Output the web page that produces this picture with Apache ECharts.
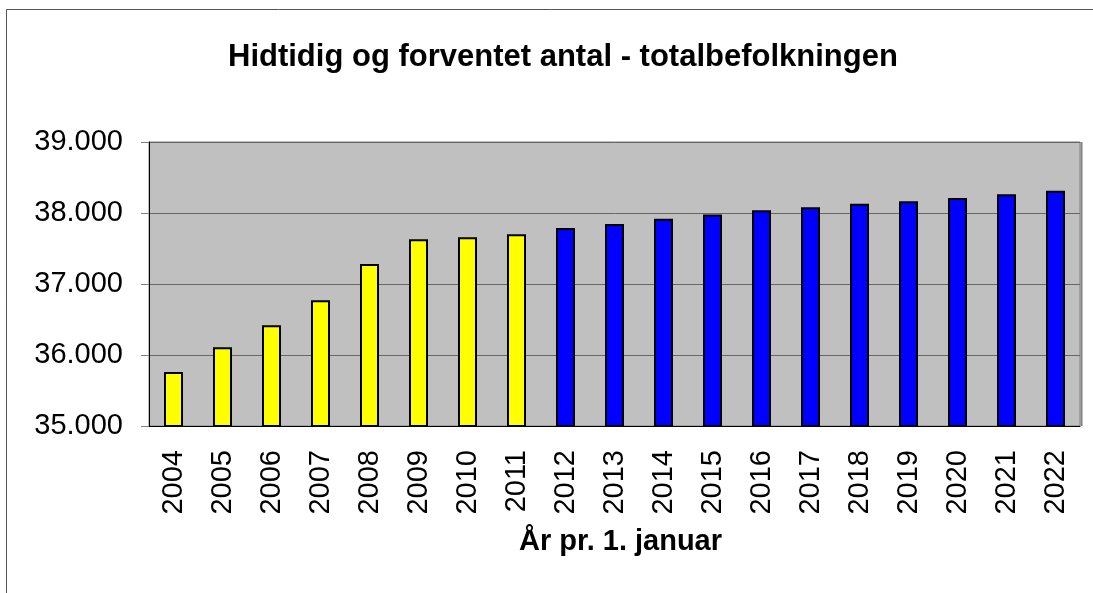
<!DOCTYPE html>
<html>
<head>
<meta charset="utf-8">
<title>Hidtidig og forventet antal - totalbefolkningen</title>
<script src="https://cdn.jsdelivr.net/npm/echarts@6/dist/echarts.min.js"></script>
<style>
    html, body { margin: 0; padding: 0; background: #fff; }
</style>
</head>
<body>
<div style="width:1093px;height:593px;" id="befolkning"></div>

<script>
// År pr. 1. januar
var years = ['2004', '2005', '2006', '2007', '2008', '2009', '2010', '2011', '2012', '2013',
    '2014', '2015', '2016', '2017', '2018', '2019', '2020', '2021', '2022'];
// hidtidig (gul) og forventet (blå) antal
var hidtidig = [35760, 36110, 36420, 36770, 37280, 37630, 37660, 37700];
var forventet = [37790, 37845, 37920, 37980, 38040, 38080, 38130, 38165, 38210, 38265, 38315];
var yTicks = { min: 35000, max: 39000, interval: 1000 };

var fontFamily = "'Liberation Sans', Arial, sans-serif";

function tusind (v) {
    return String(v).replace(/\B(?=(\d{3})+(?!\d))/g, '.');
}

// pad the two series so they share the same category slots
var histData = years.map(function (y, i) {
    return i < hidtidig.length ? hidtidig[i] : '-';
});
var progData = years.map(function (y, i) {
    var j = i - hidtidig.length;
    return j >= 0 ? forventet[j] : '-';
});

var option = {
    animation: false,
    backgroundColor: '#fff',
    textStyle: { fontFamily: fontFamily },
    title: {
        text: 'Hidtidig og forventet antal - totalbefolkningen',
        left: 223,
        top: 37,
        textStyle: {
            fontFamily: fontFamily,
            fontSize: 31,
            fontWeight: 'bold',
            color: '#000'
        }
    },
    graphic: [
        {
            type: 'rect',
            shape: { x: 6.5, y: 9.5, width: 1200, height: 700 },
            style: { fill: 'none', stroke: '#555', lineWidth: 1 },
            silent: true
        },
        {
            // thicker right edge of the plot area
            type: 'line',
            shape: { x1: 1081.5, y1: 142, x2: 1081.5, y2: 426 },
            style: { stroke: '#808080', lineWidth: 2 },
            silent: true
        }
    ],
    grid: {
        left: 149,
        top: 142,
        right: 13,
        bottom: 167,
        show: true,
        backgroundColor: '#c0c0c0',
        borderColor: '#808080',
        borderWidth: 1
    },
    xAxis: {
        type: 'category',
        data: years,
        name: 'År pr. 1. januar',
        nameLocation: 'middle',
        nameGap: 101,
        nameTextStyle: {
            fontFamily: fontFamily,
            fontSize: 29,
            fontWeight: 'bold',
            color: '#000',
            padding: [0, 0, 0, 12]
        },
        axisLine: { lineStyle: { color: '#000', width: 1 } },
        axisTick: {
            alignWithLabel: false,
            length: 8,
            lineStyle: { color: '#808080' }
        },
        axisLabel: {
            rotate: 90,
            margin: 24,
            fontSize: 29,
            color: '#000',
            fontFamily: fontFamily
        }
    },
    yAxis: {
        type: 'value',
        min: yTicks.min,
        max: yTicks.max,
        interval: yTicks.interval,
        axisLine: { show: true, lineStyle: { color: '#000', width: 1 } },
        axisTick: { show: true, length: 8, lineStyle: { color: '#808080' } },
        splitLine: { lineStyle: { color: '#666', width: 1 } },
        axisLabel: {
            margin: 26,
            fontSize: 29,
            color: '#000',
            fontFamily: fontFamily,
            formatter: tusind
        }
    },
    series: [
        {
            name: 'Hidtidig',
            type: 'bar',
            data: histData,
            barWidth: 19,
            barGap: '-100%',
            itemStyle: { color: '#ffff00', borderColor: '#000', borderWidth: 2 }
        },
        {
            name: 'Forventet',
            type: 'bar',
            data: progData,
            barWidth: 19,
            barGap: '-100%',
            itemStyle: { color: '#0000ff', borderColor: '#000', borderWidth: 2 }
        }
    ]
};

var chart = echarts.init(document.getElementById('befolkning'));
chart.setOption(option);

window.addEventListener('resize', function () {
    chart.resize();
});
</script>
</body>
</html>
